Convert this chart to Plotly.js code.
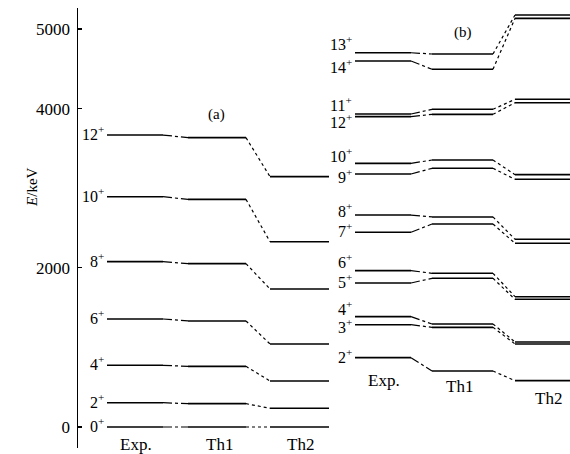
<!DOCTYPE html>
<html>
<head>
<meta charset="utf-8">
<script src="https://cdn.plot.ly/plotly-3.0.1.min.js"></script>
<style>html,body{margin:0;padding:0;background:#fff;}#chart{width:570px;height:454px;}</style>
</head>
<body>
<div id="chart"></div>
<script>
// ---- data (energies in keV) ----
const columns = ['Exp.', 'Th1', 'Th2'];
const spinsA = [0, 2, 4, 6, 8, 10, 12];
const expA = [0, 305, 775, 1357, 2077, 2893, 3668];
const th1A = [0, 293, 762, 1332, 2052, 2860, 3635];
const th2A = [0, 235, 578, 1043, 1734, 2328, 3145];

const spinsB = [2, 3, 4, 5, 6, 7, 8, 9, 10, 11, 12, 13, 14];
const expB = [871, 1285, 1386, 1809, 1964, 2446, 2663, 3178, 3312, 3932, 3899, 4702, 4598];
const th1B = [703, 1252, 1294, 1868, 1931, 2550, 2639, 3250, 3354, 3991, 3928, 4686, 4494];
const th2B = [582, 1043, 1068, 1604, 1637, 2308, 2358, 3112, 3170, 4117, 4074, 5176, 5134];

const yTicks = [0, 2000, 4000, 5000];

// ---- layout constants (x in pixel-like units of the plot) ----
const segA = [[107, 163], [188, 246], [270, 329]];
const segB = [[355, 411], [432, 493], [515, 575]];
const labelShiftB = {2: 0, 3: -3, 4: 7, 5: 0, 6: 8, 7: 0, 8: 3, 9: -4, 10: 6, 11: 8, 12: -6, 13: 8, 14: -7};

const FONT = 'Liberation Serif, Times New Roman, serif';
const traces = [];
const annotations = [];

function addPanel(spins, e0, e1, e2, seg, labelX, shifts) {
  const sx = [], sy = [];
  const c1x = [], c1y = [], c2x = [], c2y = [];
  spins.forEach((s, i) => {
    const vals = [e0[i], e1[i], e2[i]];
    vals.forEach((v, k) => {
      sx.push(seg[k][0], seg[k][1], null);
      sy.push(v, v, null);
    });
    c1x.push(seg[0][1], seg[1][0], null); c1y.push(vals[0], vals[1], null);
    c2x.push(seg[1][1], seg[2][0], null); c2y.push(vals[1], vals[2], null);
    annotations.push({
      x: labelX, y: vals[0], xref: 'x', yref: 'y', xanchor: 'right', yanchor: 'middle',
      text: s + '<sup>+</sup>', showarrow: false, yshift: (shifts ? shifts[s] : 0) + 2,
      font: {family: FONT, size: 16, color: '#000'}
    });
  });
  traces.push({x: sx, y: sy, mode: 'lines', line: {color: '#000', width: 1.6}, hoverinfo: 'skip'});
  traces.push({x: c1x, y: c1y, mode: 'lines', line: {color: '#000', width: 1.2, dash: 'dashdot'}, hoverinfo: 'skip'});
  traces.push({x: c2x, y: c2y, mode: 'lines', line: {color: '#000', width: 1.2, dash: 'dot'}, hoverinfo: 'skip'});
}

addPanel(spinsA, expA, th1A, th2A, segA, 106, null);
addPanel(spinsB, expB, th1B, th2B, segB, 354, labelShiftB);

function txt(x, y, t, size) {
  annotations.push({x: x, y: y, xref: 'x', yref: 'y', text: t, showarrow: false,
    font: {family: FONT, size: size || 17, color: '#000'}});
}
// column labels
txt(136, -222, columns[0]); txt(219, -214, columns[1]); txt(300, -214, columns[2]);
txt(384, 590, columns[0]); txt(459, 506, columns[1]); txt(548, 364, columns[2]);
txt(216, 3932, '(a)', 15); txt(463, 4962, '(b)', 15);

// y axis title placed like the reference
annotations.push({x: -0.114, y: 3015, xref: 'paper', yref: 'y', text: '<i>E</i>/keV', textangle: -90,
  showarrow: false, font: {family: FONT, size: 15, color: '#000'}});

const layout = {
  width: 570, height: 454,
  margin: {l: 78, r: 0, t: 8, b: 6},
  paper_bgcolor: '#fff', plot_bgcolor: '#fff',
  showlegend: false,
  xaxis: {visible: false, range: [78, 570], fixedrange: true},
  yaxis: {
    range: [-264, 5264], showgrid: false, zeroline: false,
    showline: true, linecolor: '#000', linewidth: 1.5,
    ticks: 'inside', ticklen: 4, tickwidth: 1.2, tickcolor: '#000',
    tickvals: yTicks, ticktext: yTicks.map(String),
    ticklabelstandoff: 3,
    tickfont: {family: FONT, size: 17, color: '#000'}
  },
  annotations: annotations
};

Plotly.newPlot('chart', traces, layout, {displayModeBar: false, staticPlot: true});
</script>
</body>
</html>
